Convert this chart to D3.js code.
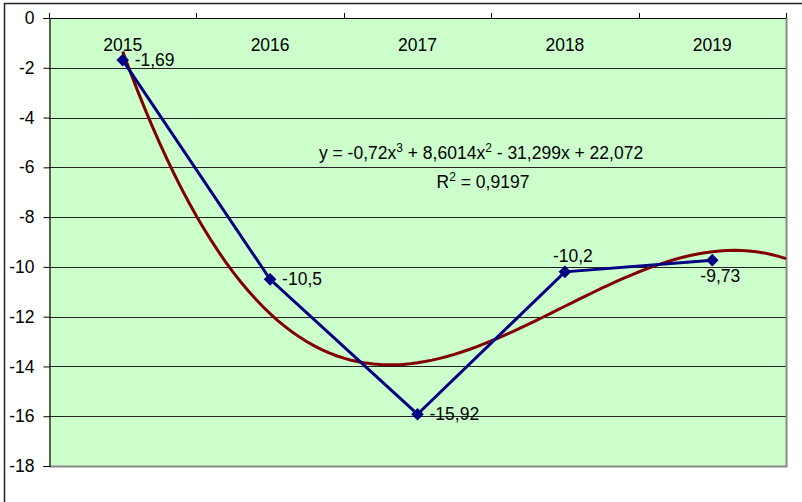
<!DOCTYPE html>
<html>
<head>
<meta charset="utf-8">
<script src="https://cdn.jsdelivr.net/npm/d3@7"></script>
<style>
  html, body { margin: 0; padding: 0; background: #fff; }
  svg { display: block; }
  text { font-family: "Liberation Sans", Arial, sans-serif; fill: #000; }
</style>
</head>
<body>
<svg id="chart" width="802" height="502"></svg>
<script>
// ---- data ----
const categories = ["2015", "2016", "2017", "2018", "2019"];
const values = [-1.69, -10.5, -15.92, -10.2, -9.73];
const valueLabels = ["-1,69", "-10,5", "-15,92", "-10,2", "-9,73"];
const labelPlacement = ["right", "right", "right", "above", "below"];
const yTicks = [0, -2, -4, -6, -8, -10, -12, -14, -16, -18];
// cubic trendline coefficients as shown on chart (x^3, x^2, x, const)
const trendCoefs = [-0.72, 8.6014, -31.299, 22.072];
const trendR2 = "0,9197";

// ---- layout ----
const FS = "17.5px";
const SUP = "12px";
const svg = d3.select("#chart");
const plot = { left: 49, top: 18, right: 786, bottom: 466 };

// outer frame
svg.append("rect")
  .attr("x", 4.5).attr("y", 3.5)
  .attr("width", 1000).attr("height", 1000)
  .attr("fill", "#fff").attr("stroke", "#222").attr("stroke-width", 1.5);

// scales
const xBand = d3.scaleBand().domain(categories).range([plot.left, plot.right]).padding(0);
const xIdx = d3.scaleLinear()
  .domain([0.5, categories.length + 0.5])
  .range([plot.left, plot.right]);
const y = d3.scaleLinear().domain([-18, 0]).range([plot.bottom, plot.top]);

// plot background
svg.append("rect")
  .attr("x", plot.left).attr("y", plot.top)
  .attr("width", plot.right - plot.left).attr("height", plot.bottom - plot.top)
  .attr("fill", "#CCFFCC");

// gridlines
svg.append("g").selectAll("line").data(yTicks.filter(d => d !== 0 && d !== -18))
  .join("line")
  .attr("x1", plot.left).attr("x2", plot.right)
  .attr("y1", d => Math.round(y(d)) + 0.5).attr("y2", d => Math.round(y(d)) + 0.5)
  .attr("stroke", "#222").attr("stroke-width", 1);

// plot area shadow border right & bottom
svg.append("path")
  .attr("d", `M${plot.right + 0.5},${plot.top} V${plot.bottom + 0.5} H${plot.left}`)
  .attr("fill", "none").attr("stroke", "#8a8a8a").attr("stroke-width", 2);

// y axis
const yAxis = d3.axisLeft(y).tickValues(yTicks).tickSize(6).tickPadding(9)
  .tickFormat(d => d3.format("d")(d).replace("−", "-"));
const gy = svg.append("g").attr("transform", `translate(${plot.left + 0.5},0)`).call(yAxis);
gy.select(".domain").attr("stroke", "#000").attr("stroke-width", 1.2);
gy.selectAll(".tick line").attr("stroke", "#000");
gy.selectAll(".tick text")
  .style("font-family", "'Liberation Sans', Arial, sans-serif")
  .style("font-size", FS).attr("fill", "#000");

// x axis at y=0 (top), ticks upward at category boundaries, labels below
svg.append("line")
  .attr("x1", plot.left).attr("x2", plot.right)
  .attr("y1", y(0) + 0.5).attr("y2", y(0) + 0.5)
  .attr("stroke", "#000").attr("stroke-width", 1.2);
const boundaries = categories.map(c => xBand(c)).concat([plot.right]);
svg.append("g").selectAll("line").data(boundaries)
  .join("line")
  .attr("x1", d => Math.round(d) + 0.5).attr("x2", d => Math.round(d) + 0.5)
  .attr("y1", y(0)).attr("y2", y(0) - 5)
  .attr("stroke", "#000");
svg.append("g").selectAll("text").data(categories)
  .join("text")
  .attr("x", d => xBand(d) + xBand.bandwidth() / 2)
  .attr("y", 51)
  .attr("text-anchor", "middle")
  .style("font-size", FS)
  .text(d => d);

// trendline (sampled from displayed polynomial)
const poly = t => trendCoefs[0] * t * t * t + trendCoefs[1] * t * t + trendCoefs[2] * t + trendCoefs[3];
const tEnd = categories.length + 0.5;
const trendPts = d3.range(1, tEnd + 0.0001, 0.05).map(t => [t, poly(t)]);
svg.append("path")
  .datum(trendPts)
  .attr("d", d3.line().x(d => xIdx(d[0])).y(d => y(d[1])))
  .attr("fill", "none").attr("stroke", "#800000").attr("stroke-width", 3);

// data line
const pts = values.map((v, i) => ({ x: xBand(categories[i]) + xBand.bandwidth() / 2, y: y(v), v, i }));
svg.append("path")
  .datum(pts)
  .attr("d", d3.line().x(d => d.x).y(d => d.y))
  .attr("fill", "none").attr("stroke", "#000080").attr("stroke-width", 3);

// markers (diamonds)
svg.append("g").selectAll("path").data(pts)
  .join("path")
  .attr("d", d3.symbol().type(d3.symbolSquare).size(80))
  .attr("transform", d => `translate(${d.x},${d.y}) rotate(45)`)
  .attr("fill", "#000080");

// data labels
svg.append("g").selectAll("text").data(pts)
  .join("text")
  .attr("x", d => labelPlacement[d.i] === "right" ? d.x + 12 : d.x + 8)
  .attr("y", d => labelPlacement[d.i] === "right" ? d.y + 6 :
                  labelPlacement[d.i] === "above" ? d.y - 10 : d.y + 22)
  .attr("text-anchor", d => labelPlacement[d.i] === "right" ? "start" : "middle")
  .style("font-size", FS)
  .text(d => valueLabels[d.i]);

// equation label
const eq = svg.append("text")
  .attr("x", 481).attr("y", 159)
  .attr("text-anchor", "middle")
  .style("font-size", FS);
const fmt = n => String(Math.abs(n)).replace(".", ",");
eq.append("tspan").text(`y = ${trendCoefs[0] < 0 ? "-" : ""}${fmt(trendCoefs[0])}x`);
eq.append("tspan").attr("dy", -7).style("font-size", SUP).text("3");
eq.append("tspan").attr("dy", 7).text(` ${trendCoefs[1] < 0 ? "-" : "+"} ${fmt(trendCoefs[1])}x`);
eq.append("tspan").attr("dy", -7).style("font-size", SUP).text("2");
eq.append("tspan").attr("dy", 7).text(` ${trendCoefs[2] < 0 ? "-" : "+"} ${fmt(trendCoefs[2])}x ${trendCoefs[3] < 0 ? "-" : "+"} ${fmt(trendCoefs[3])}`);

const r2 = svg.append("text")
  .attr("x", 483).attr("y", 188)
  .attr("text-anchor", "middle")
  .style("font-size", FS);
r2.append("tspan").text("R");
r2.append("tspan").attr("dy", -7).style("font-size", SUP).text("2");
r2.append("tspan").attr("dy", 7).text(` = ${trendR2}`);
</script>
</body>
</html>
